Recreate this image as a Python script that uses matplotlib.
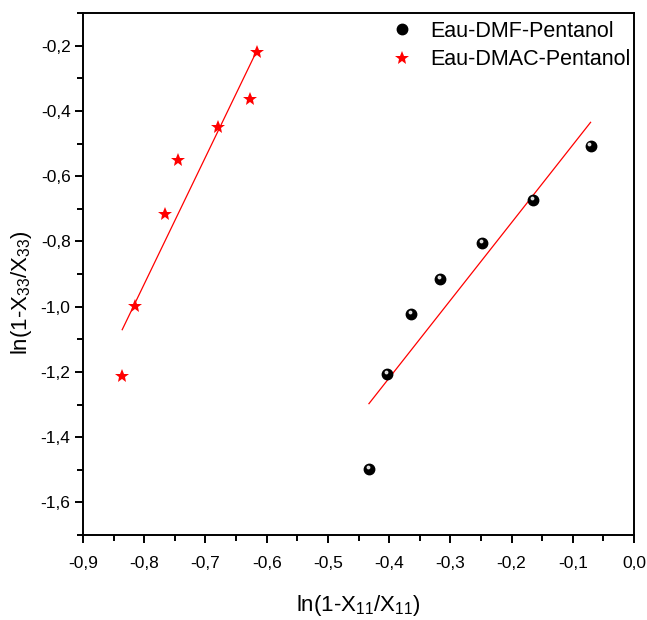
import numpy as np
import matplotlib
matplotlib.use("Agg")
import matplotlib.pyplot as plt
from matplotlib.ticker import MultipleLocator, FuncFormatter
from matplotlib.transforms import offset_copy

# police type Arial
plt.rcParams['font.family'] = ['Liberation Sans', 'DejaVu Sans']
plt.rcParams['mathtext.fontset'] = 'custom'
plt.rcParams['mathtext.rm'] = 'Liberation Sans'
plt.rcParams['mathtext.it'] = 'Liberation Sans'

# Données
x_dmf = [-0.433, -0.403, -0.364, -0.317, -0.248, -0.165, -0.071]
y_dmf = [-1.497, -1.207, -1.023, -0.916, -0.804, -0.674, -0.507]

x_dmac = [-0.836, -0.815, -0.766, -0.745, -0.679, -0.628, -0.616]
y_dmac = [-1.214, -0.997, -0.716, -0.552, -0.449, -0.363, -0.221]

label_dmf = 'Eau-DMF-Pentanol'
label_dmac = 'Eau-DMAC-Pentanol'

fig = plt.figure(figsize=(6.47, 6.2), dpi=100)
ax = fig.add_axes([0.1283, 0.1371, 0.8517, 0.8419])

# Points
ax.plot(x_dmf, y_dmf, 'o', color='black', markersize=7.5, label=label_dmf, zorder=3)
hl = offset_copy(ax.transData, fig=fig, x=-1.0, y=1.3, units='points')
ax.plot(x_dmf, y_dmf, 'o', color='white', markersize=1.8, alpha=0.8,
        transform=hl, zorder=4)
ax.plot(x_dmac, y_dmac, '*', color='red', markersize=10.5, markeredgewidth=0,
        label=label_dmac, zorder=3)

# Droites de régression linéaire
for xs, ys in [(x_dmf, y_dmf), (x_dmac, y_dmac)]:
    p = np.polyfit(xs, ys, 1)
    xl = np.array([min(xs), max(xs)])
    ax.plot(xl, np.polyval(p, xl), color='red', linewidth=0.9, zorder=2)

ax.set_xlim(-0.9, 0.0)
ax.set_ylim(-1.7, -0.1)

virgule = FuncFormatter(lambda v, pos: f"{v + 0.0:.1f}".replace('.', ','))
ax.xaxis.set_major_locator(MultipleLocator(0.1))
ax.xaxis.set_minor_locator(MultipleLocator(0.05))
ax.yaxis.set_major_locator(MultipleLocator(0.2))
ax.yaxis.set_minor_locator(MultipleLocator(0.1))
ax.xaxis.set_major_formatter(virgule)
ax.yaxis.set_major_formatter(virgule)

ax.tick_params(which='both', direction='out', width=1.4, top=False, right=False)
ax.tick_params(which='major', length=6, labelsize=12.5)
ax.tick_params(axis='x', which='major', pad=9)
ax.tick_params(axis='y', which='major', pad=3)
ax.tick_params(which='minor', length=4)
for s in ax.spines.values():
    s.set_linewidth(1.4)

fig.text(358 / 647, 1 - 605 / 620, r'ln(1-X$_{11}$/X$_{11}$)', fontsize=16,
         ha='center', va='center')
fig.text(22 / 647, 1 - 293 / 620, r'ln(1-X$_{33}$/X$_{33}$)', fontsize=16,
         ha='center', va='center', rotation=90)

ax.legend(loc='upper right', bbox_to_anchor=(1.018, 1.01), frameon=False,
          fontsize=15.5, handletextpad=0.6, labelspacing=0.35, handlelength=1.5,
          borderaxespad=0.2)

plt.savefig('out.png', dpi=100)
